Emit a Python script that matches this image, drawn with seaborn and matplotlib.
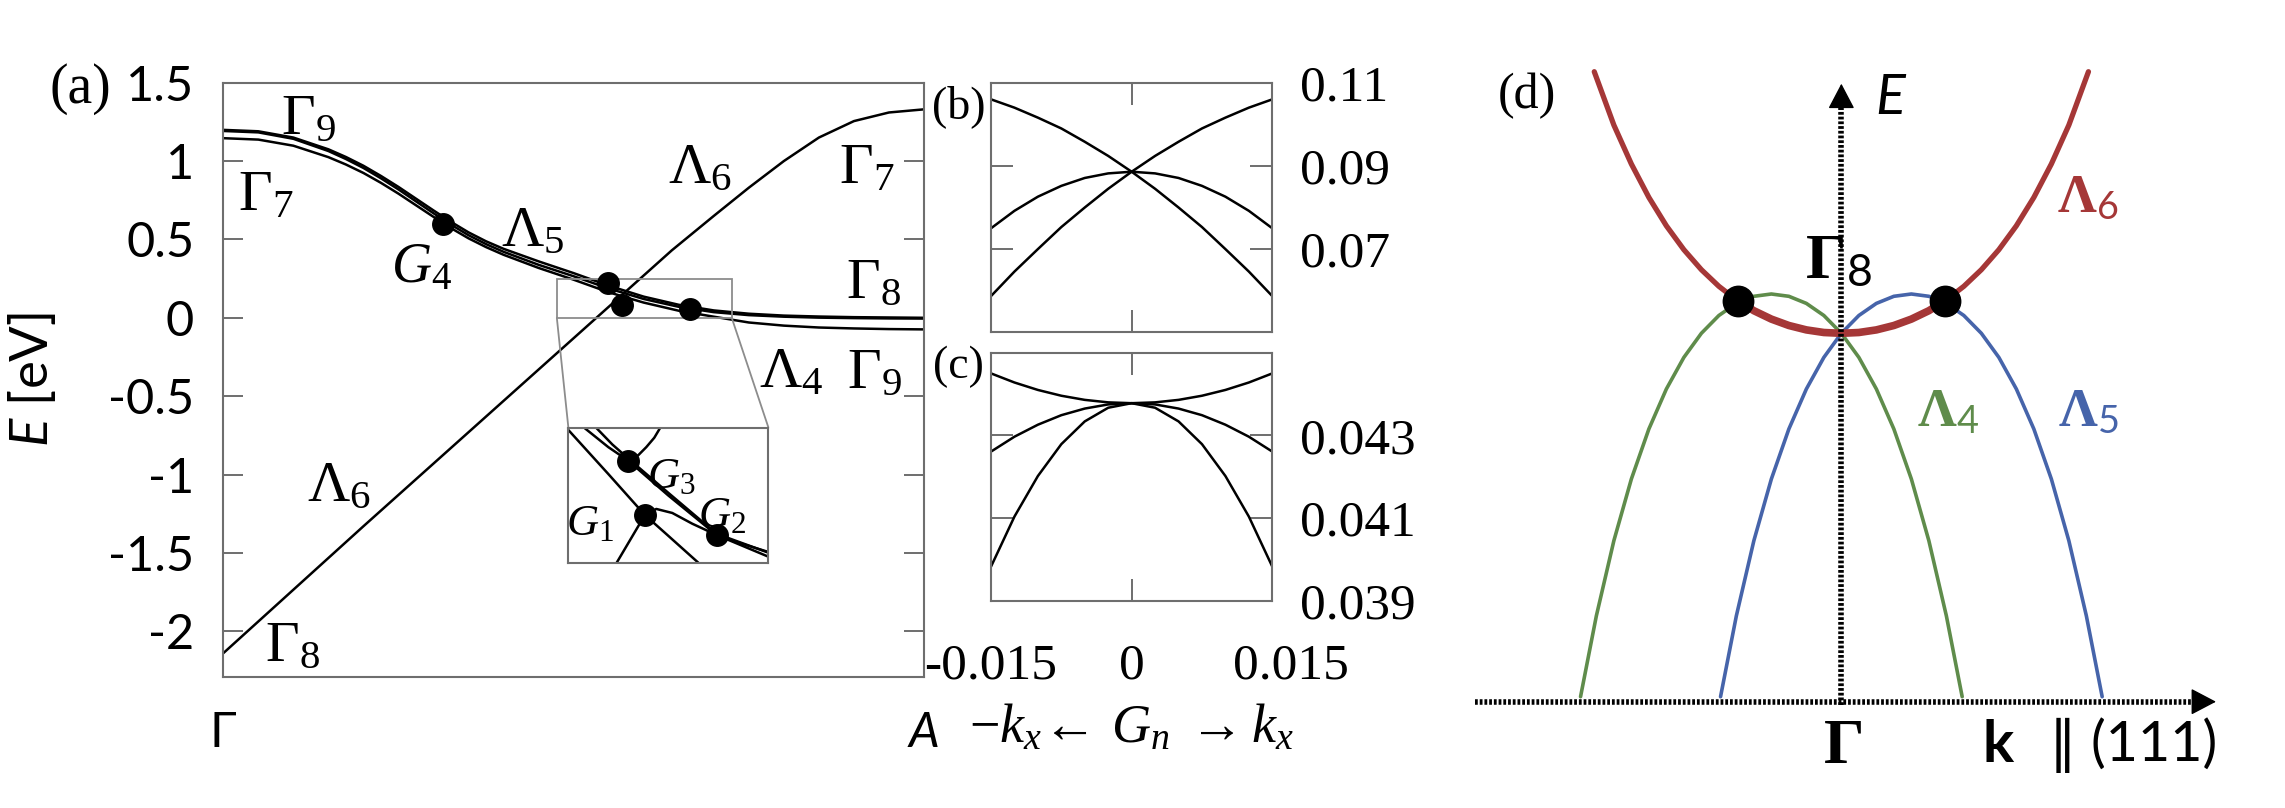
import matplotlib
matplotlib.use("Agg")
import matplotlib.pyplot as plt
import seaborn as sns
from matplotlib.patches import Rectangle
from matplotlib.transforms import ScaledTranslation

# ---- panel (a): bands along Gamma -> A ----
k_band = [0.0, 0.05, 0.1, 0.15, 0.175, 0.2, 0.225, 0.25, 0.275, 0.3, 0.325, 0.35, 0.375,
          0.4, 0.45, 0.5, 0.55, 0.6, 0.65, 0.7, 0.75, 0.8, 0.85, 0.9, 0.95, 1.0]
e_band_top = [1.199, 1.19, 1.15, 1.075, 1.026, 0.97, 0.905, 0.835, 0.76, 0.685, 0.612, 0.545, 0.488,
              0.44, 0.36, 0.285, 0.205, 0.135, 0.083, 0.047, 0.026, 0.014, 0.008, 0.004, 0.002, 0.0]
e_band_mid = [1.192, 1.183, 1.142, 1.064, 1.013, 0.956, 0.89, 0.819, 0.743, 0.667, 0.594, 0.527, 0.47,
              0.421, 0.338, 0.265, 0.187, 0.12, 0.07, 0.036, 0.017, 0.007, 0.001, -0.002, -0.004, -0.005]
e_band_low = [1.146, 1.137, 1.098, 1.025, 0.978, 0.924, 0.861, 0.792, 0.718, 0.644, 0.572, 0.507, 0.451,
              0.402, 0.318, 0.243, 0.163, 0.097, 0.045, 0.007, -0.03, -0.05, -0.062, -0.068, -0.072, -0.074]
k_lam6 = [0.0, 0.1, 0.2, 0.3, 0.4, 0.5, 0.57, 0.64, 0.7, 0.75, 0.8, 0.85, 0.9, 0.95, 1.0]
e_lam6 = [-2.14, -1.735, -1.33, -0.93, -0.53, -0.13, 0.15, 0.43, 0.65, 0.83, 1.0, 1.15, 1.255, 1.31, 1.33]
k_dots_a = [0.314, 0.549, 0.569, 0.666]
e_dots_a = [0.596, 0.222, 0.084, 0.057]
e_ticks_a = [1.5, 1, 0.5, 0, -0.5, -1, -1.5, -2]
e_ticklabels_a = ["1.5", "1", "0.5", "0", "-0.5", "-1", "-1.5", "-2"]
k_ticklabels_a = ["Γ", "A"]
zoom_k = (0.476, 0.7256)
zoom_e = (0.0, 0.2475)

# inset of (a), local units
inset_lines = {
    "l1": ([0.0, 0.2, 0.383, 0.5, 0.65], [0.988, 0.66, 0.355, 0.2, 0.0]),
    "ba": ([0.083, 0.2, 0.3, 0.5, 0.742, 1.0], [1.0, 0.86, 0.759, 0.5, 0.206, 0.045]),
    "bb": ([0.142, 0.22, 0.3, 0.5, 0.742, 1.0], [1.0, 0.88, 0.775, 0.52, 0.215, 0.075]),
    "c": ([0.458, 0.43, 0.39, 0.35, 0.3], [1.0, 0.93, 0.86, 0.8, 0.759]),
    "l6": ([0.242, 0.383], [0.0, 0.355]),
    "d": ([0.383, 0.44, 0.52, 0.62, 0.742, 0.87, 1.0], [0.355, 0.4, 0.37, 0.29, 0.206, 0.14, 0.08]),
}
u_dots_in = [0.30, 0.383, 0.742]
v_dots_in = [0.759, 0.355, 0.206]

# ---- panels (b), (c): around G_n ----
kx = [-0.015, -0.0125, -0.01, -0.0075, -0.005, -0.0025, 0.0,
      0.0025, 0.005, 0.0075, 0.01, 0.0125, 0.015]
e_b1 = [0.106, 0.104, 0.1016, 0.099, 0.0958, 0.0924, 0.0886,
        0.0845, 0.08, 0.0753, 0.07, 0.0646, 0.0587]
e_b2 = [0.0587, 0.0646, 0.07, 0.0753, 0.08, 0.0845, 0.0886,
        0.0924, 0.0958, 0.099, 0.1016, 0.104, 0.106]
e_b3 = [0.075, 0.0792, 0.0826, 0.0852, 0.0871, 0.0882, 0.0886,
        0.0882, 0.0871, 0.0852, 0.0826, 0.0792, 0.075]
e_c1 = [0.0445, 0.04428, 0.0441, 0.04396, 0.04386, 0.0438, 0.04378,
        0.0438, 0.04386, 0.04396, 0.0441, 0.04428, 0.0445]
e_c2 = [0.04261, 0.04297, 0.04326, 0.04349, 0.04365, 0.04375, 0.04378,
        0.04375, 0.04365, 0.04349, 0.04326, 0.04297, 0.04261]
e_c3 = [0.03983, 0.04104, 0.04202, 0.04279, 0.04334, 0.04367, 0.04378,
        0.04367, 0.04334, 0.04279, 0.04202, 0.04104, 0.03983]
b_ticks = [0.11, 0.09, 0.07]
c_ticks = [0.043, 0.041, 0.039]
kx_ticks = [-0.015, 0, 0.015]
kx_ticklabels = ["-0.015", "0", "0.015"]

# ---- panel (d): schematic ----
u_red = [-1.765, -1.625, -1.5, -1.375, -1.25, -1.125, -1.0, -0.875, -0.75, -0.625, -0.5,
         -0.375, -0.25, -0.125, 0.0, 0.125, 0.25, 0.375, 0.5, 0.625, 0.75, 0.875, 1.0,
         1.125, 1.25, 1.375, 1.5, 1.625, 1.765]
e_red = [6.30, 5.766, 5.377, 5.043, 4.759, 4.52, 4.32, 4.154, 4.019, 3.91, 3.826,
         3.762, 3.718, 3.692, 3.684, 3.692, 3.718, 3.762, 3.826, 3.91, 4.019, 4.154, 4.32,
         4.52, 4.759, 5.043, 5.377, 5.766, 6.30]
u_green = [-1.863, -1.75, -1.625, -1.5, -1.375, -1.25, -1.125, -1.0, -0.875, -0.75, -0.625, -0.5,
           -0.375, -0.25, -0.125, 0.0, 0.125, 0.25, 0.375, 0.5, 0.625, 0.75, 0.863]
e_green = [0.05, 0.859, 1.61, 2.227, 2.727, 3.127, 3.443, 3.684, 3.862, 3.983, 4.054, 4.077,
           4.054, 3.983, 3.862, 3.684, 3.443, 3.127, 2.727, 2.227, 1.61, 0.859, 0.05]
u_blue = [-0.863, -0.75, -0.625, -0.5, -0.375, -0.25, -0.125, 0.0, 0.125, 0.25, 0.375, 0.5,
          0.625, 0.75, 0.875, 1.0, 1.125, 1.25, 1.375, 1.5, 1.625, 1.75, 1.863]
e_blue = [0.05, 0.859, 1.61, 2.227, 2.727, 3.127, 3.443, 3.684, 3.862, 3.983, 4.054, 4.077,
          4.054, 3.983, 3.862, 3.684, 3.443, 3.127, 2.727, 2.227, 1.61, 0.859, 0.05]
u_dots_d = [-0.74, 0.74]
e_dots_d = [4.01, 4.01]

RED, GREEN, BLUE = "#a53737", "#5f8c4b", "#4664aa"
SPINE = "#6e6e6e"
W, H = 2285, 808

sns.set_theme(style="white")
plt.rcParams["font.family"] = ["Lato", "DejaVu Sans"]
plt.rcParams["mathtext.fontset"] = "custom"
plt.rcParams["mathtext.rm"] = "Liberation Serif"
plt.rcParams["mathtext.it"] = "Liberation Serif:italic"
plt.rcParams["mathtext.bf"] = "Liberation Serif:bold"
plt.rcParams["mathtext.sf"] = "Lato"
plt.rcParams["mathtext.tt"] = "Lato:italic"
plt.rcParams["axes.unicode_minus"] = False
plt.rcParams["text.color"] = "black"


def rect_px(left, top, right, bottom):
    return [left / W, 1 - bottom / H, (right - left) / W, (bottom - top) / H]


def style_spines(ax):
    for sp in ax.spines.values():
        sp.set_color(SPINE)
        sp.set_linewidth(1.5)
        sp.set_visible(True)


def curve(ax, x, y, color="black", lw=1.8, z=2):
    sns.lineplot(x=x, y=y, ax=ax, color=color, linewidth=lw, sort=False,
                 estimator=None, zorder=z)


fig = plt.figure(figsize=(W / 100, H / 100), dpi=100)

# ---------------- (a) ----------------
ax_a = fig.add_axes(rect_px(223.3, 82.7, 924, 676.7))
for e in (e_band_top, e_band_mid, e_band_low):
    curve(ax_a, k_band, e)
curve(ax_a, k_lam6, e_lam6)
ax_a.scatter(k_dots_a, e_dots_a, s=240, color="black", zorder=5)
ax_a.add_patch(Rectangle((zoom_k[0], zoom_e[0]), zoom_k[1] - zoom_k[0], zoom_e[1] - zoom_e[0],
                         fill=False, ec="#8c8c8c", lw=1.3, zorder=3))
ax_a.plot([zoom_k[0], 0.4924], [zoom_e[0], -0.698], color="#8c8c8c", lw=1.3)
ax_a.plot([zoom_k[1], 0.7778], [zoom_e[0], -0.698], color="#8c8c8c", lw=1.3)
ax_a.set_xlim(0, 1)
ax_a.set_ylim(-2.29, 1.5)
ax_a.set_yticks(e_ticks_a, e_ticklabels_a)
ax_a.tick_params(axis="y", direction="in", length=14.5, width=1.4, color=SPINE,
                 left=True, right=True, labelleft=True, labelright=False,
                 labelsize=35, pad=21, labelcolor="black")
ax_a.set_xticks([0, 1], k_ticklabels_a)
ax_a.tick_params(axis="x", length=0, labelsize=35, pad=25, labelcolor="black")
ax_a.get_xticklabels()[1].set_fontstyle("italic")
ax_a.set_ylabel(r"$\mathtt{E}$ [eV]", fontsize=38, color="black")
ax_a.yaxis.set_label_coords(-0.236, 0.5)
style_spines(ax_a)

lab = dict(fontsize=42, ha="center", va="center")
ax_a.text(0.121, 1.279, r"$\Gamma_9$", **lab)
ax_a.text(0.06, 0.793, r"$\Gamma_7$", **lab)
ax_a.text(0.283, 0.327, r"$G_4$", fontsize=40, ha="center", va="center")
ax_a.text(0.442, 0.56, r"$\Lambda_5$", **lab)
ax_a.text(0.68, 0.962, r"$\Lambda_6$", **lab)
ax_a.text(0.918, 0.962, r"$\Gamma_7$", **lab)
ax_a.text(0.928, 0.232, r"$\Gamma_8$", **lab)
ax_a.text(0.811, -0.335, r"$\Lambda_4$", **lab)
ax_a.text(0.93, -0.345, r"$\Gamma_9$", **lab)
ax_a.text(0.1655, -1.068, r"$\Lambda_6$", **lab)
ax_a.text(0.0986, -2.084, r"$\Gamma_8$", **lab)

ax_in = fig.add_axes(rect_px(568.3, 428.3, 768.3, 562.7))
ax_in.set_facecolor("white")
for u, v in inset_lines.values():
    curve(ax_in, u, v, lw=1.8)
ax_in.scatter(u_dots_in, v_dots_in, s=240, color="black", zorder=5, clip_on=False)
ax_in.set_xlim(0, 1)
ax_in.set_ylim(0, 1)
ax_in.set_xticks([])
ax_in.set_yticks([])
style_spines(ax_in)
lab_in = dict(fontsize=32, ha="center", va="center")
ax_in.text(0.517, 0.648, r"$G_3$", **lab_in)
ax_in.text(0.108, 0.30, r"$G_1$", **lab_in)
ax_in.text(0.77, 0.36, r"$G_2$", **lab_in)

# ---------------- (b) and (c) ----------------
ax_b = fig.add_axes(rect_px(991, 82.7, 1272.3, 332.3))
for e in (e_b1, e_b2, e_b3):
    curve(ax_b, kx, e)
ax_b.set_xlim(-0.015, 0.015)
ax_b.set_ylim(0.05, 0.11)
ax_b.set_yticks(b_ticks, [f"{t:.2f}" for t in b_ticks])

ax_c = fig.add_axes(rect_px(991, 352.7, 1272.3, 601))
for e in (e_c1, e_c2, e_c3):
    curve(ax_c, kx, e)
ax_c.set_xlim(-0.015, 0.015)
ax_c.set_ylim(0.039, 0.045)
ax_c.set_yticks(c_ticks, [f"{t:.3f}" for t in c_ticks])

for ax in (ax_b, ax_c):
    ax.tick_params(axis="y", direction="in", length=15.5, width=1.4, color=SPINE,
                   left=True, right=True, labelleft=False, labelright=True,
                   labelsize=37, pad=20, labelcolor="black",
                   labelfontfamily="Liberation Serif")
    ax.tick_params(axis="x", direction="in", length=15.5, width=1.4, color=SPINE,
                   top=True, bottom=True, labelsize=37, labelcolor="black",
                   labelfontfamily="Liberation Serif")
    style_spines(ax)
ax_b.set_xticks([0])
ax_b.tick_params(axis="x", labelbottom=False)
ax_c.set_xticks(kx_ticks, kx_ticklabels)
ax_c.tick_params(axis="x", pad=30)
shift = ScaledTranslation(0.19, 0, fig.dpi_scale_trans)
last = ax_c.get_xticklabels()[-1]
last.set_transform(last.get_transform() + shift)

fig.text(1131.7 / W, 1 - 727 / H, r"$-k_x\!\leftarrow\, G_n\;\rightarrow k_x$",
         fontsize=39, ha="center", va="center")

fig.text(80 / W, 1 - 89 / H, "(a)", family="Liberation Serif", fontsize=40,
         ha="center", va="center")
fig.text(959 / W, 1 - 107 / H, "(b)", family="Liberation Serif", fontsize=33,
         ha="center", va="center")
fig.text(958 / W, 1 - 367 / H, "(c)", family="Liberation Serif", fontsize=33,
         ha="center", va="center")
fig.text(1527 / W, 1 - 96 / H, "(d)", family="Liberation Serif", fontsize=36,
         ha="center", va="center")

# ---------------- (d) ----------------
ax_d = fig.add_axes([1440 / W, 0, 845 / W, 1])
ax_d.set_xlim(-2.867, 3.169)
ax_d.set_ylim(-1.063, 7.017)
ax_d.axis("off")
curve(ax_d, u_green, e_green, color=GREEN, lw=2.6, z=2)
curve(ax_d, u_blue, e_blue, color=BLUE, lw=2.6, z=2)
curve(ax_d, u_red, e_red, color=RED, lw=3.8, z=3)
mid = [(u, e) for u, e in zip(u_red, e_red) if abs(u) <= 0.75]
curve(ax_d, [m[0] for m in mid], [m[1] for m in mid], color=RED, lw=5.5, z=3)
ax_d.scatter(u_dots_d, e_dots_d, s=480, color="black", zorder=6)

dots = dict(color="black", lw=4, linestyle=(0, (0.5, 0.35)), zorder=4)
ax_d.plot([-2.617, 2.6], [0, 0], **dots)
ax_d.plot([0, 0], [-0.03, 6.05], **dots)
head = dict(arrowstyle="-|>,head_length=0.8,head_width=0.42", mutation_scale=20,
            color="black", lw=1, shrinkA=0, shrinkB=0)
ax_d.annotate("", xy=(2.676, 0), xytext=(2.55, 0), arrowprops=head, zorder=5)
ax_d.annotate("", xy=(0, 6.18), xytext=(0, 5.98), arrowprops=head, zorder=5)

ax_d.text(0.346, 6.027, "E", fontsize=40, fontstyle="italic", ha="center", va="center")
ax_d.text(1.761, 5.037, r"$\mathbf{\Lambda}_{\mathsf{6}}$", color=RED, fontsize=39,
          ha="center", va="center")
ax_d.text(-0.02, 4.41, r"$\mathbf{\Gamma}_{\mathsf{8}}$", fontsize=46, ha="center", va="center")
ax_d.text(0.761, 2.9, r"$\mathbf{\Lambda}_{\mathsf{4}}$", color=GREEN, fontsize=39,
          ha="center", va="center")
ax_d.text(1.761, 2.9, r"$\mathbf{\Lambda}_{\mathsf{5}}$", color=BLUE, fontsize=39,
          ha="center", va="center")
ax_d.text(0.01, -0.433, r"$\mathbf{\Gamma}$", fontsize=46, ha="center", va="center")
ax_d.text(1.116, -0.433, "k", fontsize=42, fontweight="bold", ha="center", va="center")
ax_d.text(2.086, -0.433, "∥ (111)", fontsize=40, ha="center", va="center")

fig.savefig("out.png", dpi=100)
